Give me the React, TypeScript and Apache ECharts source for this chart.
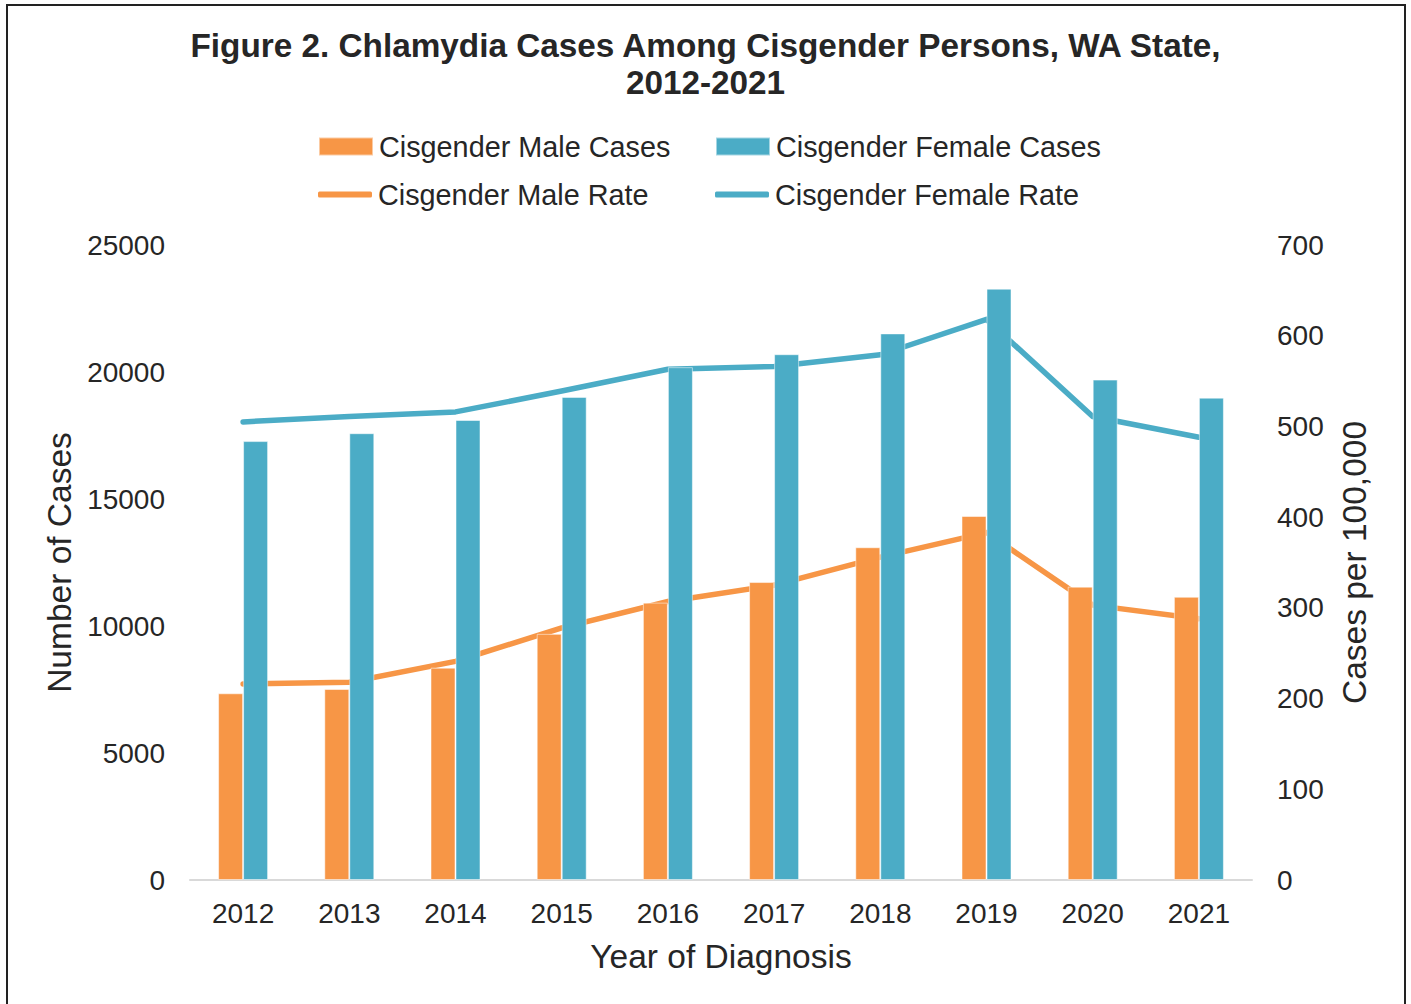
import React, { useEffect, useRef } from "react";
import * as echarts from "echarts";

const years = ["2012", "2013", "2014", "2015", "2016", "2017", "2018", "2019", "2020", "2021"];
const maleCases = [7350, 7520, 8360, 9690, 10920, 11730, 13100, 14330, 11550, 11150];
const femaleCases = [17280, 17590, 18110, 19020, 20190, 20700, 21520, 23280, 19700, 18990];
const maleRate = [216, 218, 241, 278, 307, 325, 356, 383, 303, 288];
const femaleRate = [505, 511, 516, 539, 563, 566, 579, 618, 511, 488];

const ORANGE = "#F79646";
const TEAL = "#4BACC6";
const FONT = "'Liberation Sans', Arial, sans-serif";
const TXT = "#262626";

export default function App() {
  const ref = useRef<HTMLDivElement>(null);
  useEffect(() => {
    document.body.style.margin = "0";
    const chart = echarts.init(ref.current!, null, { renderer: "svg" });
    const legendCommon = {
      itemWidth: 54,
      textStyle: { fontFamily: FONT, fontSize: 28.8, color: TXT, padding: [0, 0, 0, 1] },
      padding: 0,
      selectedMode: false,
    };
    chart.setOption({
      animation: false,
      backgroundColor: "#fff",
      textStyle: { fontFamily: FONT },
      title: {
        text: "Figure 2. Chlamydia Cases Among Cisgender Persons, WA State,\n2012-2021",
        left: "center",
        top: 22,
        textStyle: { fontFamily: FONT, fontSize: 33.3, fontWeight: "bold", color: TXT, lineHeight: 37 },
      },
      legend: [
        { ...legendCommon, left: 318, top: 132, itemHeight: 18, icon: "rect", data: ["Cisgender Male Cases"] },
        { ...legendCommon, left: 715, top: 132, itemHeight: 18, icon: "rect", data: ["Cisgender Female Cases"] },
        { ...legendCommon, left: 318, top: 180, itemHeight: 6, icon: "roundRect", data: ["Cisgender Male Rate"] },
        { ...legendCommon, left: 715, top: 180, itemHeight: 6, icon: "roundRect", data: ["Cisgender Female Rate"] },
      ],
      grid: { left: 190, right: 159, top: 245, bottom: 124, containLabel: false },
      xAxis: {
        type: "category",
        data: years,
        axisLine: { lineStyle: { color: "#D9D9D9", width: 2 } },
        axisTick: { show: false },
        axisLabel: { fontFamily: FONT, fontSize: 28, color: TXT, margin: 19 },
        name: "Year of Diagnosis",
        nameLocation: "middle",
        nameGap: 59,
        nameTextStyle: { fontFamily: FONT, fontSize: 33.5, color: TXT },
      },
      yAxis: [
        {
          type: "value",
          min: 0,
          max: 25000,
          interval: 5000,
          axisLine: { show: false },
          axisTick: { show: false },
          splitLine: { show: false },
          axisLabel: { fontFamily: FONT, fontSize: 28, color: TXT, margin: 25, formatter: (v: number) => String(v) },
          name: "Number of Cases",
          nameLocation: "middle",
          nameGap: 112,
          nameTextStyle: { fontFamily: FONT, fontSize: 33.5, color: TXT },
        },
        {
          type: "value",
          min: 0,
          max: 700,
          interval: 100,
          position: "right",
          axisLine: { show: false },
          axisTick: { show: false },
          splitLine: { show: false },
          axisLabel: { fontFamily: FONT, fontSize: 28, color: TXT, margin: 25, formatter: (v: number) => String(v) },
          name: "Cases per 100,000",
          nameLocation: "middle",
          nameGap: 85,
          nameRotate: 90,
          nameTextStyle: { fontFamily: FONT, fontSize: 33.5, color: TXT },
        },
      ],
      series: [
        {
          name: "Cisgender Male Cases",
          type: "bar",
          data: maleCases,
          barWidth: 25,
          barGap: "0%",
          z: 3,
          itemStyle: { color: ORANGE, borderColor: "rgba(255,255,255,0.5)", borderWidth: 1 },
        },
        {
          name: "Cisgender Female Cases",
          type: "bar",
          data: femaleCases,
          barWidth: 25,
          barGap: "0%",
          z: 3,
          itemStyle: { color: TEAL, borderColor: "rgba(255,255,255,0.5)", borderWidth: 1 },
        },
        {
          name: "Cisgender Male Rate",
          type: "line",
          yAxisIndex: 1,
          data: maleRate,
          symbol: "none",
          z: 1,
          itemStyle: { color: ORANGE },
          lineStyle: { color: ORANGE, width: 5.5, cap: "round", join: "round" },
        },
        {
          name: "Cisgender Female Rate",
          type: "line",
          yAxisIndex: 1,
          data: femaleRate,
          symbol: "none",
          z: 1,
          itemStyle: { color: TEAL },
          lineStyle: { color: TEAL, width: 5.5, cap: "round", join: "round" },
        },
      ],
      graphic: [
        {
          type: "rect",
          shape: { x: 7, y: 5, width: 1398, height: 1020 },
          style: { fill: "none", stroke: "#222", lineWidth: 2 },
          silent: true,
        },
      ],
    });
    return () => chart.dispose();
  }, []);
  return <div ref={ref} style={{ width: 1411, height: 1004 }} />;
}
